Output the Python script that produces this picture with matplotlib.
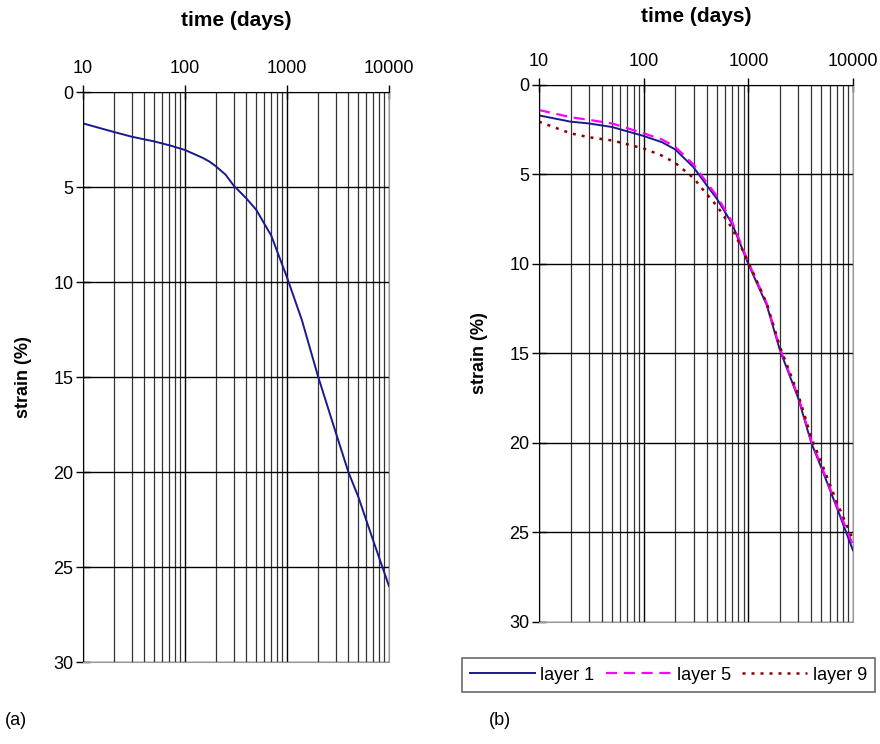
import matplotlib
matplotlib.use("Agg")
import matplotlib.pyplot as plt
from matplotlib.ticker import LogLocator, FixedLocator, FixedFormatter, NullFormatter

plt.rcParams["font.family"] = ["Liberation Sans", "DejaVu Sans"]

# ---------------- DATA ----------------
# panel (a)
time_a = [10, 20, 30, 50, 70, 100, 150, 175, 200, 250, 300, 400, 500, 700, 1000, 1400, 2000,
          3000, 4000, 5000, 7000, 10000]
strain_a = [1.65, 2.1, 2.35, 2.6, 2.8, 3.05, 3.47, 3.67, 3.9, 4.35, 4.92, 5.6, 6.2, 7.55, 9.75, 12.0, 14.9,
            17.9, 20.0, 21.3, 23.6, 26.0]

# panel (b)
time_b = [10, 20, 30, 50, 100, 150, 200, 300, 400, 500, 700, 1000, 1500, 2000, 3000, 4000,
          5000, 7000, 10000]
layer1 = [1.7, 2.05, 2.15, 2.35, 2.85, 3.2, 3.6, 4.6, 5.6, 6.35, 7.75, 10.0, 12.3, 14.8, 17.5, 20.0,
          21.4, 23.6, 26.0]
layer5 = [1.4, 1.8, 1.95, 2.15, 2.7, 3.05, 3.45, 4.45, 5.45, 6.2, 7.65, 9.9, 12.2, 14.7, 17.4, 19.9,
          21.3, 23.5, 25.7]
layer9 = [2.05, 2.7, 2.92, 3.1, 3.55, 3.95, 4.35, 5.2, 6.1, 6.75, 8.0, 9.9, 12.2, 14.6, 17.3, 19.7,
          21.1, 23.3, 25.4]

x_ticks = [10, 100, 1000, 10000]
y_ticks = [0, 5, 10, 15, 20, 25, 30]


def setup_axes(ax, title_pad):
    ax.set_xscale("log")
    ax.set_xlim(10, 10000)
    ax.set_ylim(30, 0)
    ax.xaxis.tick_top()
    ax.xaxis.set_label_position("top")
    ax.xaxis.set_major_locator(FixedLocator(x_ticks))
    ax.xaxis.set_major_formatter(FixedFormatter([str(t) for t in x_ticks]))
    ax.xaxis.set_minor_locator(LogLocator(base=10, subs=range(2, 10)))
    ax.xaxis.set_minor_formatter(NullFormatter())
    ax.set_yticks(y_ticks)
    ax.tick_params(axis="x", which="minor", length=0)
    ax.tick_params(axis="both", which="major", labelsize=13, length=10, direction="inout",
                   color="black", width=1.0)
    ax.tick_params(axis="x", which="major", pad=6)
    ax.tick_params(axis="y", which="major", pad=2)
    ax.grid(True, which="major", axis="both", color="black", linewidth=1.0)
    ax.grid(True, which="minor", axis="x", color="#333333", linewidth=0.9)
    ax.spines["top"].set_color("black")
    ax.spines["left"].set_color("black")
    ax.spines["right"].set_color("#999999")
    ax.spines["bottom"].set_color("#999999")
    ax.set_xlabel("time (days)", fontsize=15, fontweight="bold", labelpad=title_pad)
    ax.set_ylabel("strain (%)", fontsize=13, fontweight="bold", labelpad=15)
    ax.set_axisbelow(True)


fig = plt.figure(figsize=(8.8, 7.44), dpi=100)

# ---------------- PANEL (a) ----------------
ax1 = fig.add_axes([0.0943, 0.1102, 0.3477, 0.7661])
setup_axes(ax1, 24)
ax1.plot(time_a, strain_a, color="#1a1a8c", linewidth=1.4)

# ---------------- PANEL (b) ----------------
ax2 = fig.add_axes([0.6125, 0.164, 0.3568, 0.7218])
setup_axes(ax2, 22)
ax2.plot(time_b, layer1, color="#1a1a8c", linewidth=1.4, label="layer 1")
ax2.plot(time_b, layer5, color="#ff00ff", linewidth=1.6, linestyle=(0, (5, 3)), label="layer 5")
ax2.plot(time_b, layer9, color="#8b0000", linewidth=1.8, linestyle=(0, (1.2, 2.4)), label="layer 9")

leg = fig.legend(loc="center", bbox_to_anchor=(0.7597, 0.0927), ncol=3, fontsize=13,
                 frameon=True, fancybox=False, edgecolor="#444444", handlelength=3.6,
                 columnspacing=0.65, handletextpad=0.3, borderpad=0.45, borderaxespad=0)
leg.get_frame().set_linewidth(1.2)

fig.text(0.006, 0.025, "(a)", fontsize=13)
fig.text(0.556, 0.025, "(b)", fontsize=13)

fig.savefig("out.png", dpi=100)
